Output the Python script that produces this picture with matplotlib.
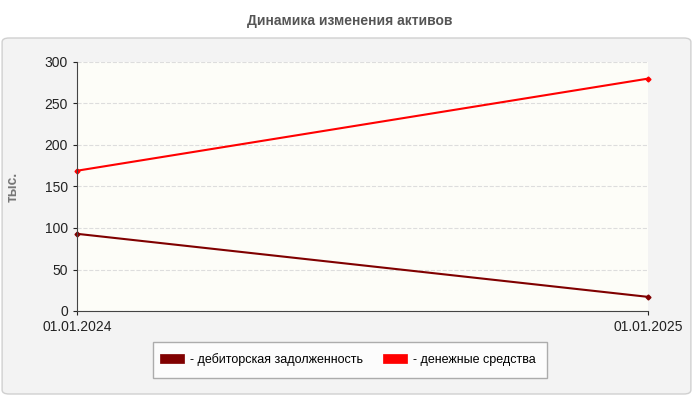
import matplotlib
matplotlib.use("Agg")
import matplotlib.pyplot as plt
from matplotlib.patches import FancyBboxPatch

plt.rcParams['font.family'] = ['Liberation Sans', 'DejaVu Sans']

dates = ["01.01.2024", "01.01.2025"]
receivables = [93, 17]
cash = [169, 280]
series_names = ["- дебиторская задолженность", "- денежные средства"]
colors = ["#800000", "#ff0000"]

fig = plt.figure(figsize=(7, 4), dpi=100)
fig.patch.set_facecolor("white")
panel = FancyBboxPatch((0.003, 0.015), 0.984, 0.89, boxstyle="round,pad=0,rounding_size=0.01",
                       transform=fig.transFigure, facecolor="#f3f3f3", edgecolor="#d0d0d0", lw=1,
                       zorder=-10)
fig.patches.append(panel)
fig.text(0.5, 0.948, "Динамика изменения активов", ha="center", va="center",
         fontsize=10, fontweight="bold", color="#555555")

ax = fig.add_axes([0.11, 0.2225, 0.816, 0.6225])
ax.set_facecolor("#fdfdf8")
x = [0, 1]
for vals, c, n in zip([receivables, cash], colors, series_names):
    ax.plot(x, vals, color=c, lw=1.5, marker="D", ms=2.5, label=n, clip_on=False)
ax.set_xlim(0, 1)
ax.set_ylim(0, 300)
ax.set_xticks(x)
ax.set_xticklabels(dates)
ax.set_yticks(range(0, 301, 50))
ax.tick_params(labelsize=10, colors="#222222", length=3)
ax.yaxis.grid(True, ls="--", color="#dddddd", lw=0.8)
for s in ["top", "right"]:
    ax.spines[s].set_visible(False)
ax.spines["left"].set_color("#444444")
ax.spines["bottom"].set_color("#444444")
ax.set_ylabel("тыс.", color="#777777", fontsize=10, fontweight="bold", labelpad=18)

leg = fig.legend(loc="center", bbox_to_anchor=(0.5, 0.1), ncol=2, fontsize=9,
                 frameon=True, fancybox=False, edgecolor="#999999", handlelength=1.2,
                 handleheight=0.8, columnspacing=2, borderpad=0.9)
for h, c in zip(leg.legend_handles, colors):
    h.set_linewidth(7)
    h.set_marker("")
fig.savefig("out.png", dpi=100)
